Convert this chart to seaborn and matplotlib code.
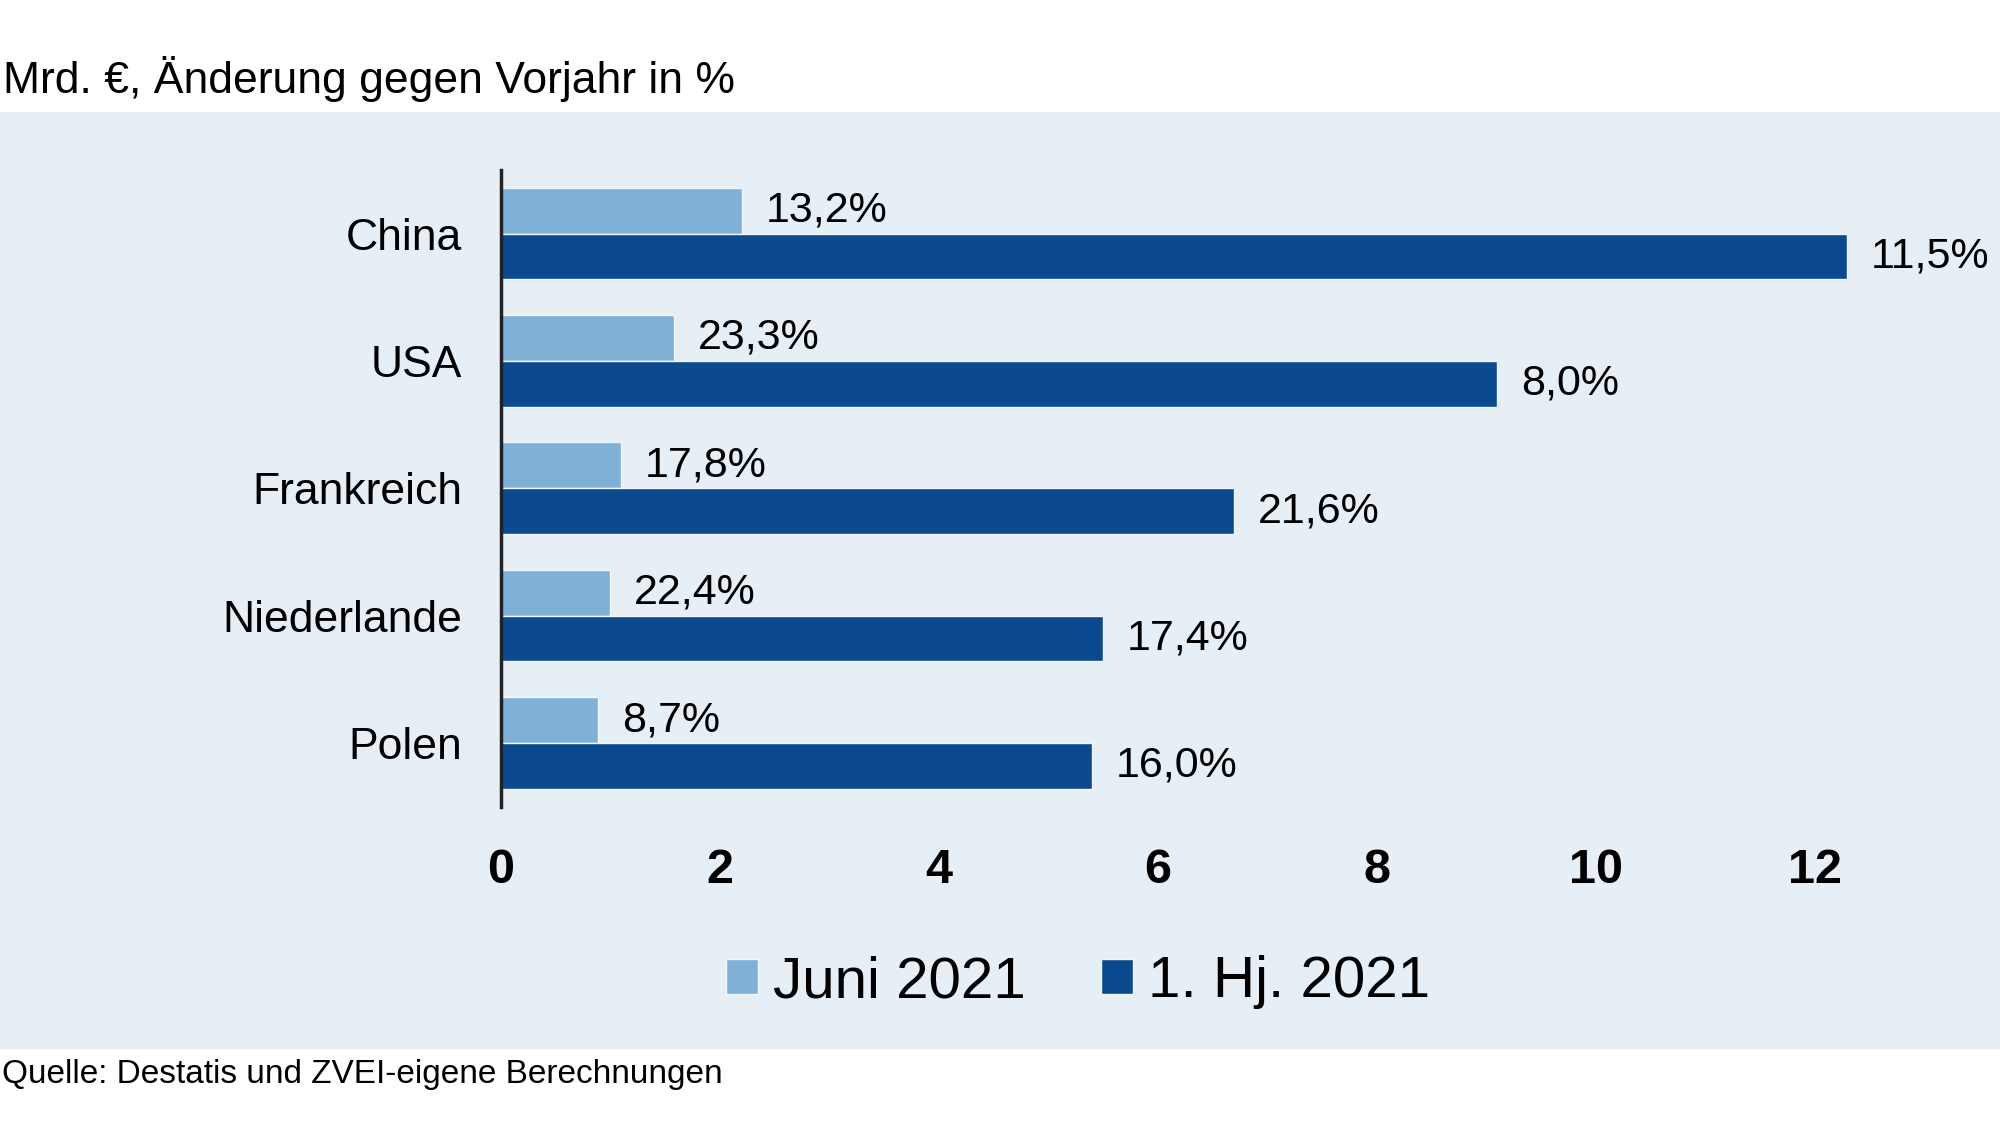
import numpy as np
import pandas as pd
import matplotlib
matplotlib.use("Agg")
import matplotlib.pyplot as plt
from matplotlib.patches import Rectangle
import seaborn as sns

# data
laender = ["China", "USA", "Frankreich", "Niederlande", "Polen"]
juni_2021 = [2.2, 1.58, 1.1, 1.0, 0.89]
hj_2021 = [12.3, 9.1, 6.7, 5.5, 5.4]
juni_pct = ["13,2%", "23,3%", "17,8%", "22,4%", "8,7%"]
hj_pct = ["11,5%", "8,0%", "21,6%", "17,4%", "16,0%"]
serien = ["Juni 2021", "1. Hj. 2021"]
x_ticks = [0, 2, 4, 6, 8, 10, 12]

hell = "#7eb0d8"
dunkel = "#0b4a8e"
panel = "#e6eff6"

df = pd.DataFrame({"Land": laender * 2,
                   "Wert": juni_2021 + hj_2021,
                   "Zeitraum": [serien[0]] * len(laender) + [serien[1]] * len(laender)})

sns.set_style("white")
plt.rcParams['font.family'] = ['Liberation Sans', 'DejaVu Sans']
plt.rcParams['text.color'] = 'black'
plt.rcParams['xtick.color'] = 'black'
plt.rcParams['ytick.color'] = 'black'

fig = plt.figure(figsize=(20, 11.25), dpi=100)
fig.patches.append(Rectangle((0, 1 - 1048 / 1125), 1, (1048 - 112) / 1125,
                             transform=fig.transFigure, color=panel, zorder=-10))

ax = fig.add_axes([0.2505, 0.283, 0.962 - 0.2505, 0.566])
ax.set_facecolor("none")

sns.barplot(data=df, y="Land", x="Wert", hue="Zeitraum", orient="h",
            palette=[hell, dunkel], width=0.72, gap=0.0, ax=ax,
            edgecolor="#f2f7fb", linewidth=1.0, saturation=1)

for cont, labs in zip(ax.containers, [juni_pct, hj_pct]):
    ax.bar_label(cont, labels=labs, padding=17, fontsize=31, clip_on=False, color="black")

ax.set_xlim(0, 13)
ax.set_ylim(4.5, -0.5)
ax.set_xticks(x_ticks)
ax.set_xticklabels([str(t) for t in x_ticks], fontsize=35, fontweight="bold")
ax.tick_params(axis="x", length=0, pad=30)
ax.tick_params(axis="y", length=0, pad=28, labelsize=32)
ax.set_xlabel("")
ax.set_ylabel("")
for s in ["top", "right", "bottom"]:
    ax.spines[s].set_visible(False)
ax.spines["left"].set_color("#222222")
ax.spines["left"].set_linewidth(2.5)

handles, labels = ax.get_legend_handles_labels()
ax.get_legend().remove()
fig.legend(handles, labels, loc="center", bbox_to_anchor=(0.539, 1 - 982 / 1125),
           ncol=2, frameon=False, fontsize=42, handlelength=0.55, handleheight=0.55,
           handletextpad=0.25, columnspacing=1.3)

fig.text(0.0015, 1 - 79 / 1125, "Mrd. €, Änderung gegen Vorjahr in %", fontsize=32,
         va="center", ha="left")
fig.text(0.001, 1 - 1075 / 1125, "Quelle: Destatis und ZVEI-eigene Berechnungen",
         fontsize=24, va="center", ha="left")

fig.savefig("out.png", dpi=100, facecolor="white")
